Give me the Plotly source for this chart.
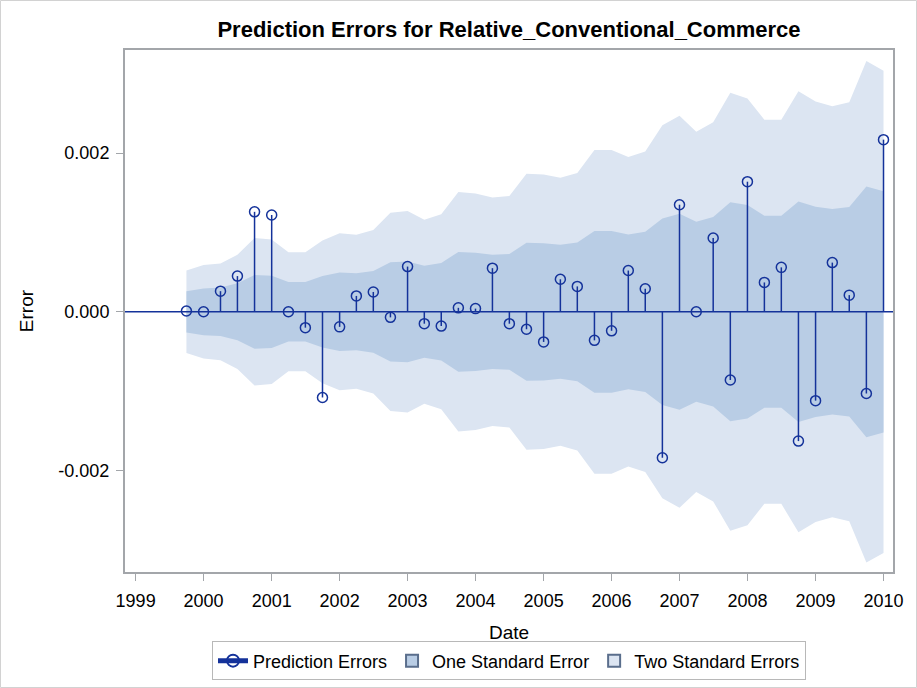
import plotly.graph_objects as go

# ---- data ----
dates = [
    "1999-10-01",
    "2000-01-01", "2000-04-01", "2000-07-01", "2000-10-01",
    "2001-01-01", "2001-04-01", "2001-07-01", "2001-10-01",
    "2002-01-01", "2002-04-01", "2002-07-01", "2002-10-01",
    "2003-01-01", "2003-04-01", "2003-07-01", "2003-10-01",
    "2004-01-01", "2004-04-01", "2004-07-01", "2004-10-01",
    "2005-01-01", "2005-04-01", "2005-07-01", "2005-10-01",
    "2006-01-01", "2006-04-01", "2006-07-01", "2006-10-01",
    "2007-01-01", "2007-04-01", "2007-07-01", "2007-10-01",
    "2008-01-01", "2008-04-01", "2008-07-01", "2008-10-01",
    "2009-01-01", "2009-04-01", "2009-07-01", "2009-10-01",
    "2010-01-01",
]

pred_errors = [
    0.00001,
    0.00000, 0.00026, 0.00045, 0.00126,
    0.00122, 0.00000, -0.00020, -0.00108,
    -0.00019, 0.00020, 0.00025, -0.00007,
    0.00057, -0.00015, -0.00018, 0.00005,
    0.00004, 0.00055, -0.00015, -0.00022,
    -0.00038, 0.00041, 0.00032, -0.00036,
    -0.00024, 0.00052, 0.00029, -0.00184,
    0.00135, 0.00000, 0.00093, -0.00086,
    0.00164, 0.00037, 0.00056, -0.00163,
    -0.00112, 0.00062, 0.00021, -0.00103,
    0.00217,
]

std_errors = [
    0.000260,
    0.000295, 0.000305, 0.000360, 0.000465,
    0.000455, 0.000375, 0.000375, 0.000450,
    0.000495, 0.000485, 0.000515, 0.000625,
    0.000635, 0.000580, 0.000615, 0.000755,
    0.000745, 0.000720, 0.000730, 0.000870,
    0.000865, 0.000845, 0.000875, 0.001020,
    0.001020, 0.000975, 0.001010, 0.001175,
    0.001235, 0.001135, 0.001195, 0.001380,
    0.001345, 0.001210, 0.001210, 0.001390,
    0.001325, 0.001295, 0.001320, 0.001580,
    0.001520,
]

tick_dates = ["1999-01-01", "2000-01-01", "2001-01-01", "2002-01-01",
              "2003-01-01", "2004-01-01", "2005-01-01", "2006-01-01",
              "2007-01-01", "2008-01-01", "2009-01-01", "2010-01-01"]
tick_labels = ["1999", "2000", "2001", "2002", "2003", "2004",
               "2005", "2006", "2007", "2008", "2009", "2010"]
y_ticks = [-0.002, 0.0, 0.002]
y_tick_labels = ["-0.002", "0.000", "0.002"]

# ---- styles ----
DARK = "#14329A"
ONE_SE = "#B9CDE5"
TWO_SE = "#DCE5F2"
SWATCH_EDGE = "#5A6E8C"
AXIS = "#A3A6AA"
FONT = "Liberation Sans, Arial, sans-serif"

# bands built from the standard errors
two_upper = [2 * s for s in std_errors]
two_lower = [-2 * s for s in std_errors]
one_upper = [s for s in std_errors]
one_lower = [-s for s in std_errors]

err_plus = [(-v if v < 0 else 0.0) for v in pred_errors]
err_minus = [(v if v > 0 else 0.0) for v in pred_errors]

fig = go.Figure()

fig.add_trace(go.Scatter(
    x=dates + dates[::-1],
    y=two_upper + two_lower[::-1],
    fill="toself", fillcolor=TWO_SE,
    line=dict(width=0, color=TWO_SE),
    mode="lines", name="Two Standard Errors",
    showlegend=False, hoverinfo="skip",
))
fig.add_trace(go.Scatter(
    x=dates + dates[::-1],
    y=one_upper + one_lower[::-1],
    fill="toself", fillcolor=ONE_SE,
    line=dict(width=0, color=ONE_SE),
    mode="lines", name="One Standard Error",
    showlegend=False, hoverinfo="skip",
))

# stems (error bars back to zero) + open circle markers
fig.add_trace(go.Scatter(
    x=dates, y=pred_errors, mode="markers",
    marker=dict(symbol="circle-open", size=10, color=DARK,
                line=dict(width=1.5, color=DARK)),
    error_y=dict(type="data", symmetric=False, array=err_plus,
                 arrayminus=err_minus, width=0, thickness=1.5, color=DARK),
    showlegend=False, name="Prediction Errors",
))

# legend entries
fig.add_trace(go.Scatter(
    x=[None], y=[None], mode="lines+markers",
    line=dict(color=DARK, width=1.5),
    marker=dict(symbol="circle-open", size=10, color=DARK,
                line=dict(width=1.5, color=DARK)),
    name="Prediction Errors", legendrank=1,
))
fig.add_trace(go.Scatter(
    x=[None], y=[None], mode="markers",
    marker=dict(symbol="square", size=13, color=ONE_SE,
                line=dict(width=1, color=SWATCH_EDGE)),
    name="One Standard Error", legendrank=2,
))
fig.add_trace(go.Scatter(
    x=[None], y=[None], mode="markers",
    marker=dict(symbol="square", size=13, color=TWO_SE,
                line=dict(width=1, color=SWATCH_EDGE)),
    name="Two Standard Errors", legendrank=3,
))

# zero reference line across the full plot
fig.add_shape(type="line", xref="paper", x0=0, x1=1, yref="y", y0=0, y1=0,
              line=dict(color=DARK, width=1.5), layer="above")
# outer image border
fig.add_shape(type="rect", xref="paper", yref="paper",
              x0=-0.1621, x1=1.0306, y0=-0.2213, y1=1.0948,
              line=dict(color="#D2D2D2", width=1), layer="above")

fig.update_layout(
    width=917, height=688,
    margin=dict(l=125, r=24, t=50, b=116, autoexpand=False),
    paper_bgcolor="white", plot_bgcolor="white",
    font=dict(family=FONT, color="black", size=17),
    title=dict(text="<b>Prediction Errors for Relative_Conventional_Commerce</b>",
               x=509 / 917, xanchor="center", y=1 - 29 / 688, yanchor="middle",
               yref="container", font=dict(size=22, family=FONT, color="black")),
    showlegend=True,
    legend=dict(orientation="h", x=0.5, xanchor="center", y=-0.133, yanchor="top",
                bordercolor="#B8B8B8", borderwidth=1, bgcolor="white",
                font=dict(size=18, family=FONT), traceorder="normal",
                itemsizing="constant", tracegroupgap=0, itemwidth=30),
)

fig.update_xaxes(
    type="date", automargin=False,
    range=["1998-11-05", "2010-02-21"],
    tickmode="array", tickvals=tick_dates, ticktext=tick_labels,
    ticks="outside", ticklen=7, tickwidth=1, tickcolor=AXIS,
    ticklabelstandoff=4,
    showline=True, linecolor=AXIS, linewidth=2, mirror=True,
    showgrid=False, zeroline=False,
    tickfont=dict(size=18),
    title=dict(text="Date", font=dict(size=19), standoff=16),
)
fig.update_yaxes(
    automargin=False,
    range=[-0.00328, 0.0033],
    tickmode="array", tickvals=y_ticks, ticktext=y_tick_labels,
    ticks="outside", ticklen=7, tickwidth=1, tickcolor=AXIS,
    ticklabelstandoff=3,
    showline=True, linecolor=AXIS, linewidth=2, mirror=True,
    showgrid=False, zeroline=False,
    tickfont=dict(size=18),
    title=dict(text="Error", font=dict(size=19), standoff=20),
)

fig.write_html(
    "out.html",
    config={"displayModeBar": False},
    post_script="document.body.style.margin='0px';document.body.style.overflow='hidden';",
)
